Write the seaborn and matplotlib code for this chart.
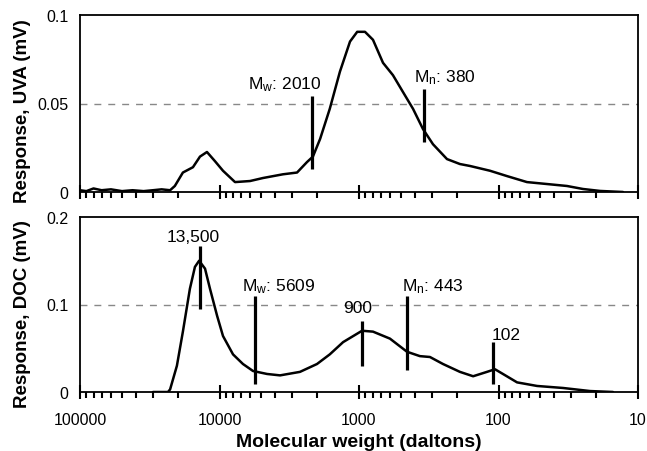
import numpy as np
import pandas as pd
import matplotlib
matplotlib.use("Agg")
import matplotlib.pyplot as plt
import matplotlib.ticker as mticker
import seaborn as sns

# ---- data ----
mw_uva = [100000, 90000, 80000, 70000, 60000, 50000, 42000, 35000, 30000, 26000,
          22600, 20900, 18300, 15500, 13800, 12300, 10800, 9440, 7740, 6040,
          4880, 3510, 2780, 2360, 2140, 1900, 1620, 1370, 1160, 1030,
          906, 794, 673, 571, 484, 410, 348, 295, 234, 189,
          160, 115, 87, 62.5, 44.9, 32.3, 24.8, 18.7, 12.8]
uva = [0.001, 0.0005, 0.002, 0.001, 0.0015, 0.0005, 0.001, 0.0005, 0.001, 0.0015,
       0.001, 0.0034, 0.011, 0.014, 0.020, 0.0226, 0.0175, 0.012, 0.0056, 0.0062,
       0.0079, 0.010, 0.011, 0.0169, 0.020, 0.030, 0.047, 0.068, 0.085, 0.0905,
       0.0905, 0.086, 0.073, 0.066, 0.0565, 0.047, 0.0356, 0.027, 0.0186, 0.0158,
       0.0147, 0.012, 0.009, 0.0056, 0.0045, 0.0034, 0.0017, 0.0006, 0.0]

mw_doc = [30000, 23400, 22600, 20200, 18300, 16300, 15000, 14000, 12700, 11700,
          10400, 9440, 8000, 6790, 5750, 4560, 3680, 2650, 2000, 1620,
          1300, 951, 794, 600, 453, 366, 310, 250, 189, 152,
          121, 106, 92.9, 73.6, 52.9, 34.5, 22.1, 15.1]
doc = [0, 0, 0.003, 0.030, 0.069, 0.118, 0.143, 0.150, 0.141, 0.118,
       0.087, 0.064, 0.043, 0.032, 0.024, 0.0206, 0.019, 0.023, 0.032, 0.043,
       0.057, 0.070, 0.069, 0.061, 0.046, 0.041, 0.040, 0.032, 0.023, 0.018,
       0.023, 0.026, 0.0206, 0.011, 0.0069, 0.0046, 0.0011, 0]

# marker lines: (position, y bottom, y top)
uva_mark_x = [2170, 342]
uva_mark_lo = [0.013, 0.028]
uva_mark_hi = [0.054, 0.058]
uva_labels = [r"$\mathregular{M_w}$: 2010", r"$\mathregular{M_n}$: 380"]
uva_label_x = [3390, 242]
uva_label_y = [0.061, 0.065]

doc_mark_x = [13800, 5570, 951, 453, 109]
doc_mark_lo = [0.095, 0.009, 0.030, 0.025, 0.009]
doc_mark_hi = [0.167, 0.110, 0.081, 0.110, 0.057]
doc_labels = ["13,500", r"$\mathregular{M_w}$: 5609", "900", r"$\mathregular{M_n}$: 443", "102"]
doc_label_x = [15500, 3740, 1020, 295, 88.4]
doc_label_y = [0.178, 0.121, 0.096, 0.121, 0.066]

x_ticks = [100000, 10000, 1000, 100, 10]
uva_ticks = [0, 0.05, 0.1]
uva_ticklabels = ["0", "0.05", "0.1"]
doc_ticks = [0, 0.1, 0.2]
doc_ticklabels = ["0", "0.1", "0.2"]

sns.set_style("ticks")
plt.rcParams["font.family"] = ["Liberation Sans", "DejaVu Sans"]
plt.rcParams["mathtext.default"] = "regular"
for key in ["text.color", "axes.labelcolor", "xtick.color", "ytick.color", "axes.edgecolor"]:
    plt.rcParams[key] = "black"

fig = plt.figure(figsize=(6.47, 4.52), dpi=100)
ax1 = fig.add_axes([80/647, 1-193/452, 558/647, 177/452])
ax2 = fig.add_axes([80/647, 1-393/452, 558/647, 175/452])

df_uva = pd.DataFrame({"mw": mw_uva, "resp": uva})
df_doc = pd.DataFrame({"mw": mw_doc, "resp": doc})

sns.lineplot(data=df_uva, x="mw", y="resp", ax=ax1, color="black", lw=1.8, estimator=None, sort=False)
sns.lineplot(data=df_doc, x="mw", y="resp", ax=ax2, color="black", lw=1.8, estimator=None, sort=False)

def style(ax, yt, ytl, ymax, dash_y, label, show_x, label_y):
    ax.set_xscale("log")
    ax.set_xlim(100000, 10)
    ax.set_ylim(0, ymax)
    ax.set_yticks(yt)
    ax.set_yticklabels(ytl)
    ax.axhline(dash_y, color="#888888", lw=1.0, ls=(0, (5, 5)), zorder=0)
    ax.xaxis.set_major_locator(mticker.FixedLocator(x_ticks))
    ax.xaxis.set_minor_locator(mticker.LogLocator(base=10, subs=np.arange(2, 10)))
    ax.xaxis.set_minor_formatter(mticker.NullFormatter())
    if show_x:
        ax.xaxis.set_major_formatter(mticker.FuncFormatter(lambda v, _: f"{v:g}"))
    else:
        ax.xaxis.set_major_formatter(mticker.NullFormatter())
    ax.tick_params(axis="x", which="major", direction="inout", length=10, width=1.5,
                   labelsize=11.5, pad=9.5, colors="black")
    ax.tick_params(axis="x", which="minor", direction="out", length=4, width=1.5, colors="black")
    ax.tick_params(axis="y", which="major", length=0, labelsize=11.5, pad=8.5, colors="black")
    for sp in ax.spines.values():
        sp.set_visible(True)
        sp.set_linewidth(1.3)
        sp.set_color("black")
    ax.set_ylabel(label, fontsize=13.5, fontweight="bold", color="black")
    ax.yaxis.set_label_coords(-0.087, label_y)
    ax.set_xlabel("")

style(ax1, uva_ticks, uva_ticklabels, 0.1, 0.05, "Response, UVA (mV)", False, 0.46)
style(ax2, doc_ticks, doc_ticklabels, 0.2, 0.1, "Response, DOC (mV)", True, 0.45)
ax2.set_xlabel("Molecular weight (daltons)", fontsize=14, fontweight="bold", labelpad=4, color="black")

ax1.vlines(uva_mark_x, uva_mark_lo, uva_mark_hi, color="black", lw=2.3)
for t, x, y in zip(uva_labels, uva_label_x, uva_label_y):
    ax1.text(x, y, t, ha="center", va="center", fontsize=12.5, color="black")
ax2.vlines(doc_mark_x, doc_mark_lo, doc_mark_hi, color="black", lw=2.3)
for t, x, y in zip(doc_labels, doc_label_x, doc_label_y):
    ax2.text(x, y, t, ha="center", va="center", fontsize=12.5, color="black")

fig.savefig("out.png", dpi=100)
